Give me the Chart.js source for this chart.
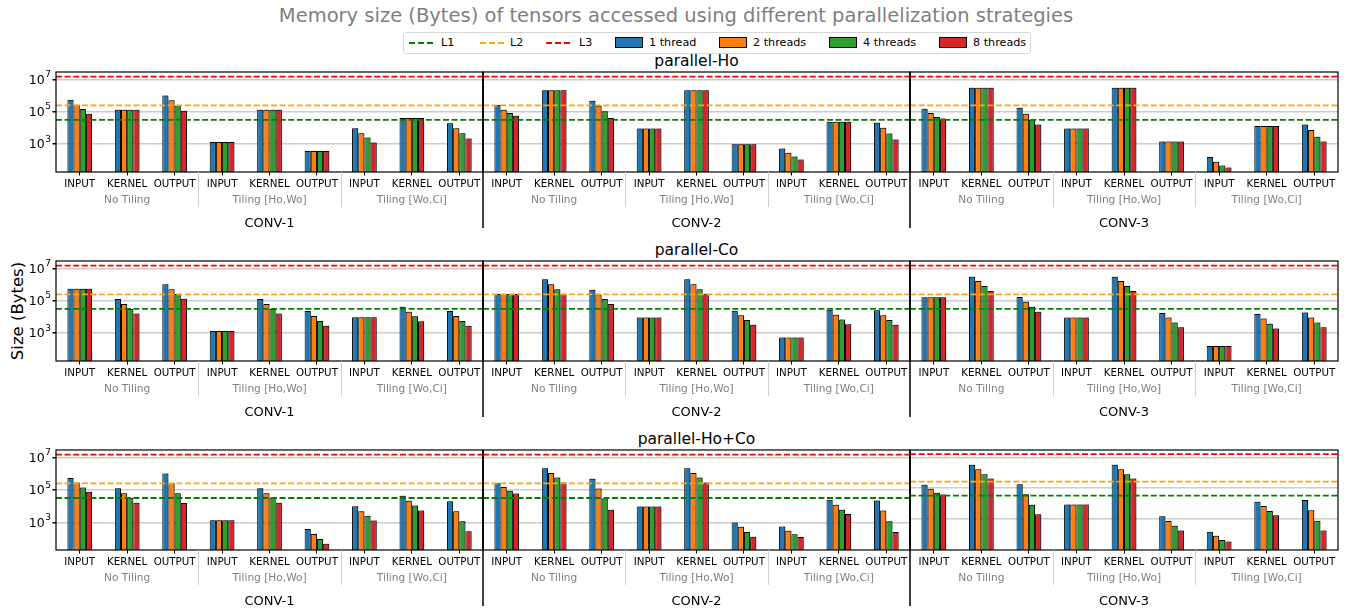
<!DOCTYPE html>
<html>
<head>
<meta charset="utf-8">
<script src="https://cdn.jsdelivr.net/npm/chart.js@4.4.0/dist/chart.umd.min.js"></script>
<style>
  html, body { margin: 0; padding: 0; background: #fff; }
  body { width: 1348px; height: 612px; overflow: hidden; position: relative; font-family: "DejaVu Sans", sans-serif; }
  canvas { position: absolute; }
  .t { position: absolute; white-space: nowrap; transform: translate(-50%, -50%); line-height: 1; }
  #legend { position: absolute; left: 403px; top: 32px; width: 626px; height: 20px; border: 1px solid #d6d6d6; border-radius: 3px; background: #fff; }
  .lg-line { position: absolute; top: 9px; width: 24px; height: 0; border-top: 2px dashed; }
  .lg-patch { position: absolute; top: 4px; width: 26px; height: 9px; border: 1px solid #000; }
  .lg-text { position: absolute; top: 3px; font-size: 11.2px; line-height: 13px; color: #000; white-space: nowrap; }
</style>
</head>
<body>
<div class="t" id="title" style="left:676px; top:16px; font-size:19.5px; color:#7f7f7f;">Memory size (Bytes) of tensors accessed using different parallelization strategies</div>
<div id="legend"></div>
<div class="t" style="left:18px; top:311px; font-size:16.5px; transform: translate(-50%, -50%) rotate(-90deg);">Size (Bytes)</div>
<script>
// ---- categories and labels ----
const tensors = ['INPUT', 'KERNEL', 'OUTPUT'];
const tilings = ['No Tiling', 'Tiling [Ho,Wo]', 'Tiling [Wo,Ci]'];
const convs = ['CONV-1', 'CONV-2', 'CONV-3'];
const strategies = ['parallel-Ho', 'parallel-Co', 'parallel-Ho+Co'];
const threadNames = ['1 thread', '2 threads', '4 threads', '8 threads'];
const cacheNames = ['L1', 'L2', 'L3'];
const cacheBytes = [32768, 262144, 16000000];
const yTickValues = [1e3, 1e5, 1e7];
const yTickExponents = ['3', '5', '7'];

// ---- bytes per tensor; each array: CONV-1..3 x (No Tiling, [Ho,Wo], [Wo,Ci]) x (INPUT, KERNEL, OUTPUT) ----
const hoT1 = [5.75e5, 1.38e5, 1.07e6, 1380, 1.38e5, 372, 9770, 4.27e4, 2.0e4,
              2.69e5, 2.29e6, 5.01e5, 9330, 2.29e6, 1000, 537, 2.51e4, 2.19e4,
              1.62e5, 3.24e6, 1.86e5, 9330, 3.24e6, 1445, 158, 1.35e4, 1.66e4];
const hoT2 = [2.82e5, 1.38e5, 5.5e5, 1380, 1.38e5, 372, 4790, 4.27e4, 9770,
              1.38e5, 2.29e6, 2.45e5, 9330, 2.29e6, 1000, 288, 2.51e4, 1.07e4,
              8.71e4, 3.24e6, 7.94e4, 9330, 3.24e6, 1445, 81, 1.35e4, 7760];
const hoT4 = [1.55e5, 1.38e5, 2.57e5, 1380, 1.38e5, 372, 2570, 4.27e4, 4790,
              8.71e4, 2.29e6, 1.1e5, 9330, 2.29e6, 1000, 174, 2.51e4, 4570,
              4.9e4, 3.24e6, 3.39e4, 9330, 3.24e6, 1445, 48, 1.35e4, 2950];
const hoT8 = [7.94e4, 1.38e5, 1.2e5, 1380, 1.38e5, 372, 1260, 4.27e4, 2240,
              5.89e4, 2.29e6, 4.27e4, 9330, 2.29e6, 1000, 112, 2.51e4, 1950,
              3.89e4, 3.24e6, 1.66e4, 9330, 3.24e6, 1445, 36, 1.35e4, 1445];

const coT1 = [5.75e5, 1.32e5, 1.12e6, 1380, 1.32e5, 2.4e4, 9770, 4.47e4, 2.4e4,
              2.69e5, 2.29e6, 5.01e5, 9330, 2.29e6, 2.51e4, 537, 2.88e4, 2.63e4,
              1.7e5, 3.24e6, 1.78e5, 9330, 3.24e6, 1.82e4, 158, 1.58e4, 1.91e4];
const coT2 = [5.75e5, 6.46e4, 5.5e5, 1380, 6.46e4, 1.17e4, 9770, 2.19e4, 1.17e4,
              2.69e5, 1.12e6, 2.57e5, 9330, 1.12e6, 1.29e4, 537, 1.41e4, 1.29e4,
              1.7e5, 1.74e6, 9.12e4, 9330, 1.74e6, 9330, 158, 8130, 9330];
const coT4 = [5.75e5, 3.24e4, 2.69e5, 1380, 3.24e4, 5750, 9770, 1.12e4, 5750,
              2.69e5, 5.5e5, 1.32e5, 9330, 5.5e5, 6610, 537, 7080, 6610,
              1.7e5, 8.51e5, 4.47e4, 9330, 8.51e5, 4570, 158, 3890, 4570];
const coT8 = [5.75e5, 1.66e4, 1.38e5, 1380, 1.66e4, 2950, 9770, 5500, 2950,
              2.69e5, 2.82e5, 6.46e4, 9330, 2.82e5, 3310, 537, 3630, 3310,
              1.7e5, 4.17e5, 2.19e4, 9330, 4.17e5, 2340, 158, 1950, 2340];

const hocoT1 = [5.75e5, 1.32e5, 1.07e6, 1380, 1.32e5, 389, 1.02e4, 4.47e4, 2.09e4,
                2.69e5, 2.29e6, 5.01e5, 9770, 2.29e6, 1000, 562, 2.51e4, 2.29e4,
                1.66e5, 3.24e6, 1.82e5, 8910, 3.24e6, 1550, 151, 1.32e4, 1.7e4];
const hocoT2 = [2.95e5, 6.46e4, 2.82e5, 1380, 6.46e4, 191, 5010, 2.19e4, 5010,
                1.55e5, 1.17e6, 1.26e5, 9770, 1.17e6, 537, 302, 1.23e4, 5500,
                9.12e4, 1.7e6, 4.07e4, 8910, 1.7e6, 741, 83, 6920, 3800];
const hocoT4 = [1.45e5, 3.39e4, 6.46e4, 1380, 3.39e4, 93, 2570, 1.12e4, 1200,
                9.12e4, 6.03e5, 3.09e4, 9770, 6.03e5, 251, 182, 6030, 1200,
                5.01e4, 7.94e5, 8320, 8910, 7.94e5, 372, 45, 3310, 776];
const hocoT8 = [7.94e4, 1.66e4, 1.58e4, 1380, 1.66e4, 48, 1320, 5500, 288,
                6.17e4, 2.95e5, 6030, 9770, 2.95e5, 129, 123, 3310, 251,
                3.89e4, 4.17e5, 2090, 8910, 4.17e5, 186, 35, 1740, 186];

const seriesByStrategy = [
  [hoT1, hoT2, hoT4, hoT8],
  [coT1, coT2, coT4, coT8],
  [hocoT1, hocoT2, hocoT4, hocoT8]
];

// ---- styling / layout ----
const FONT = '"DejaVu Sans", sans-serif';
const threadColors = ['#1f77b4', '#ff7f0e', '#2ca02c', '#d62728'];
const cacheColors = ['#008000', '#ffa500', '#ff0000'];
const rowTops = [72, 261, 450];
const rowBottoms = [172, 361, 550];
const colLefts = [56, 483, 910];
const colRights = [483, 910, 1338];
const yRange = [
  [[18.6, 3.09e7], [18.6, 3.09e7], [18.6, 3.09e7]],
  [[18.6, 3.09e7], [18.6, 3.09e7], [18.6, 3.09e7]],
  [[19.5, 3.09e7], [19.5, 3.09e7], [10, 2.95e7]]
];

// legend
const legend = document.getElementById('legend');
const lineX = [5, 76, 142];
const lineTextX = [37, 106, 175];
cacheNames.forEach((n, i) => {
  const l = document.createElement('div');
  l.className = 'lg-line';
  l.style.left = lineX[i] + 'px';
  l.style.borderTopColor = cacheColors[i];
  legend.appendChild(l);
  const t = document.createElement('div');
  t.className = 'lg-text';
  t.style.left = lineTextX[i] + 'px';
  t.textContent = n;
  legend.appendChild(t);
});
const patchX = [211, 315, 425, 535];
threadNames.forEach((n, i) => {
  const p = document.createElement('div');
  p.className = 'lg-patch';
  p.style.left = patchX[i] + 'px';
  p.style.background = threadColors[i];
  legend.appendChild(p);
  const t = document.createElement('div');
  t.className = 'lg-text';
  t.style.left = (patchX[i] + 34) + 'px';
  t.textContent = n;
  legend.appendChild(t);
});

// strategy titles above each row
strategies.forEach((s, r) => {
  const d = document.createElement('div');
  d.className = 't';
  d.style.left = '696.5px';
  d.style.top = (rowTops[r] - 10) + 'px';
  d.style.fontSize = '15.5px';
  d.style.color = '#000';
  d.textContent = s;
  document.body.appendChild(d);
});

// light shadow behind bars
const barShadow = {
  id: 'barShadow',
  beforeDatasetsDraw(chart) {
    const ctx = chart.ctx;
    ctx.save();
    ctx.shadowColor = 'rgba(0,0,0,0.3)';
    ctx.shadowOffsetX = 1.5;
    ctx.shadowOffsetY = -1.5;
    ctx.shadowBlur = 0.5;
  },
  afterDatasetsDraw(chart) {
    chart.ctx.restore();
  }
};

// cache-size reference lines, frame, power-of-ten labels, group and layer labels
function decorPlugin(row, col) {
  return {
    id: 'decor',
    afterDatasetsDraw(chart) {
      const { ctx, chartArea: a } = chart;
      const y = chart.scales.y;
      ctx.save();
      ctx.beginPath();
      ctx.rect(a.left, a.top, a.right - a.left, a.bottom - a.top);
      ctx.clip();
      ctx.lineWidth = 1.8;
      ctx.setLineDash([6, 2.6]);
      cacheBytes.forEach((b, i) => {
        const py = y.getPixelForValue(b);
        ctx.strokeStyle = cacheColors[i];
        ctx.beginPath();
        ctx.moveTo(a.left, py);
        ctx.lineTo(a.right, py);
        ctx.stroke();
      });
      ctx.restore();
    },
    afterDraw(chart) {
      const { ctx, chartArea: a } = chart;
      const x = chart.scales.x;
      const y = chart.scales.y;
      ctx.save();
      // axes frame
      ctx.strokeStyle = '#000';
      ctx.lineWidth = 1.2;
      ctx.strokeRect(a.left, a.top, a.right - a.left, a.bottom - a.top);
      if (col > 0) {
        ctx.lineWidth = 1.5;
        ctx.beginPath();
        ctx.moveTo(a.left, a.top);
        ctx.lineTo(a.left, a.bottom + 56);
        ctx.stroke();
      }
      // y tick labels as 10 with a raised exponent
      if (col === 0) {
        ctx.fillStyle = '#000';
        ctx.textBaseline = 'middle';
        yTickValues.forEach((v, i) => {
          const py = y.getPixelForValue(v);
          const right = a.left - 5;
          ctx.font = '9px ' + FONT;
          ctx.textAlign = 'right';
          ctx.fillText(yTickExponents[i], right, py - 5);
          const ew = ctx.measureText(yTickExponents[i]).width;
          ctx.font = '12.5px ' + FONT;
          ctx.fillText('10', right - ew - 0.5, py + 1);
        });
      }
      // separators between tiling groups
      ctx.strokeStyle = '#d0d0d0';
      ctx.lineWidth = 1;
      [3, 6].forEach(k => {
        const xx = Math.round((x.getPixelForValue(k - 1) + x.getPixelForValue(k)) / 2) + 0.5;
        ctx.beginPath();
        ctx.moveTo(xx, a.bottom);
        ctx.lineTo(xx, a.bottom + 35);
        ctx.stroke();
      });
      // tiling labels
      ctx.textAlign = 'center';
      ctx.textBaseline = 'middle';
      ctx.fillStyle = '#808080';
      ctx.font = '10.6px ' + FONT;
      tilings.forEach((t, g) => {
        ctx.fillText(t, x.getPixelForValue(g * 3 + 1), a.bottom + 28.5);
      });
      // layer label
      ctx.fillStyle = '#000';
      ctx.font = '13px ' + FONT;
      ctx.fillText(convs[col], (a.left + a.right) / 2, a.bottom + 52);
      ctx.restore();
    }
  };
}

function makeChart(row, col) {
  const yW = col === 0 ? 56 : 4;
  const padTop = 12, xH = 64, padR = 3;
  const plotW = colRights[col] - colLefts[col];
  const plotH = rowBottoms[row] - rowTops[row];
  const W = yW + plotW + padR;
  const H = padTop + plotH + xH;
  const cv = document.createElement('canvas');
  cv.width = W; cv.height = H;
  cv.style.width = W + 'px'; cv.style.height = H + 'px';
  cv.style.left = (colLefts[col] - yW) + 'px';
  cv.style.top = (rowTops[row] - padTop) + 'px';
  document.body.appendChild(cv);

  const series = seriesByStrategy[row];
  const [yMin, yMax] = yRange[row][col];

  new Chart(cv, {
    type: 'bar',
    data: {
      labels: tensors.concat(tensors, tensors),
      datasets: threadNames.map((n, i) => ({
        label: n,
        data: series[i].slice(col * 9, col * 9 + 9),
        backgroundColor: threadColors[i],
        borderColor: '#000',
        borderWidth: 1,
        borderSkipped: 'bottom',
        categoryPercentage: 0.52,
        barPercentage: 1
      }))
    },
    options: {
      responsive: false,
      animation: false,
      devicePixelRatio: 1,
      layout: { padding: { top: padTop, right: padR, left: 0, bottom: 0 } },
      plugins: { legend: { display: false }, tooltip: { enabled: false } },
      scales: {
        x: {
          type: 'category',
          offset: true,
          border: { display: false },
          grid: { offset: false, drawOnChartArea: false, drawTicks: true, tickLength: 3.5, tickColor: '#000', color: '#000' },
          ticks: { autoSkip: false, maxRotation: 0, minRotation: 0, padding: 2.5, color: '#000', font: { family: FONT, size: 10.3 } },
          afterFit(s) { s.width = s.width; s.height = xH; }
        },
        y: {
          type: 'logarithmic',
          min: yMin,
          max: yMax,
          border: { display: false },
          afterBuildTicks(s) { s.ticks = yTickValues.map(v => ({ value: v })); },
          ticks: { display: false },
          grid: { color: '#cccccc', lineWidth: 1.5, drawTicks: col === 0, tickLength: 3.5, tickColor: '#000' },
          afterFit(s) { s.width = yW; }
        }
      }
    },
    plugins: [barShadow, decorPlugin(row, col)]
  });
}

for (let r = 0; r < 3; r++) {
  for (let c = 0; c < 3; c++) makeChart(r, c);
}
</script>
</body>
</html>
